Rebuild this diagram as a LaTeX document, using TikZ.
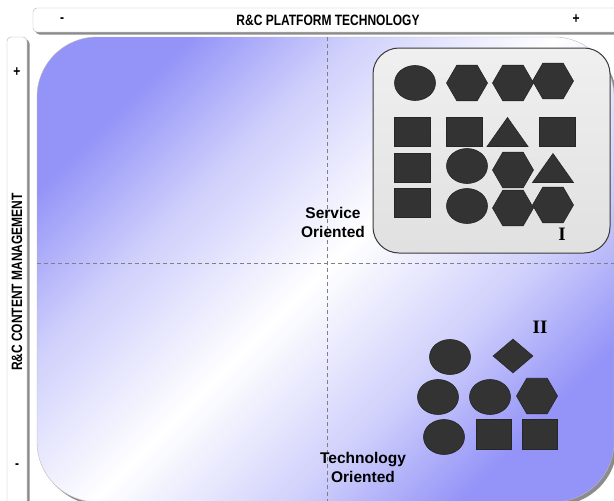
\documentclass[tikz,border=0pt]{standalone}
\usepackage{fontspec}
\setmainfont{Liberation Sans}
\newfontfamily\narrowfont[FakeStretch=0.8]{Liberation Sans}
\newfontfamily\romanfont{Liberation Serif}
\usetikzlibrary{shapes.geometric,shadows}
\definecolor{quadBlue}{HTML}{9494F8}
\definecolor{shapeGray}{HTML}{333333}
\definecolor{boxEdge}{HTML}{3A3A3A}
\definecolor{barShadow}{HTML}{8C8C8C}
\pgfdeclareverticalshading{quadshade}{100bp}{color(0bp)=(quadBlue); color(25bp)=(quadBlue);
  color(36bp)=(quadBlue!45!white); color(50bp)=(white); color(64bp)=(quadBlue!45!white);
  color(75bp)=(quadBlue); color(100bp)=(quadBlue)}

\tikzset{
  shp/.style={fill=shapeGray,draw=black!85,line width=0.6pt,inner sep=0pt},
  blob/.style={shp,ellipse,minimum width=41pt,minimum height=35pt},
  hexa/.style={shp,regular polygon,regular polygon sides=6,minimum size=41pt},
  sqbox/.style={shp,rectangle,minimum width=36pt,minimum height=29pt},
  dia/.style={shp,diamond,minimum width=40pt,minimum height=34pt},
  tri/.pic={\path[shp] (-20.5,14.5) -- (20.5,14.5) -- (0,-14.5) -- cycle;},
  axisbar/.style={draw=gray!60,fill=white,rounded corners=4pt,
    drop shadow={shadow xshift=2.5pt,shadow yshift=-2.5pt,fill=barShadow,opacity=1}},
  axislabel/.style={font=\narrowfont\bfseries\fontsize{15}{18}\selectfont},
  quadlabel/.style={font=\bfseries\fontsize{15.5}{19}\selectfont,align=center},
  romanlabel/.style={font=\romanfont\bfseries\fontsize{19}{22}\selectfont}
}

\begin{document}
\begin{tikzpicture}[x=1pt,y=-1pt]
  \useasboundingbox (0,0) rectangle (614,501);
  \clip (0,0) rectangle (614,501);

  % axis bars
  \draw[axisbar] (33,8) rectangle (624,32);
  \draw[axisbar] (7,37) rectangle (27,512);
  \node[axislabel] (xtitle) at (328,20) {R\&C PLATFORM TECHNOLOGY};
  \node[axislabel] (xminus) at (62,20) {-};
  \node[axislabel] (xplus) at (576,19) {+};
  \node[axislabel, rotate=90] (ytitle) at (17,282) {R\&C CONTENT MANAGEMENT};
  \node[axislabel] (yplus) at (17,72) {+};
  \node[axislabel] (yminus) at (17,466) {-};

  % quadrant area
  \path[draw=gray!55, rounded corners=60pt,
        drop shadow={shadow xshift=3pt,shadow yshift=-3pt,fill=barShadow,opacity=1},
        shading=quadshade, shading angle=45] (37,37) rectangle (614,502);
  \draw[gray, dash pattern=on 4pt off 3pt] (327,37) -- (327,501);
  \draw[gray, dash pattern=on 4pt off 3pt] (37,263) -- (614,263);

  % quadrant I
  \node[draw=boxEdge, line width=1pt, rounded corners=26pt,
        top color=gray!12, bottom color=gray!24,
        minimum width=237pt, minimum height=205pt] (boxI) at (491.5,150.5) {};
  \node[blob] (a1) at (415,83) {};
  \node[hexa] (a2) at (467,83) {};
  \node[hexa] (a3) at (513,83) {};
  \node[hexa] (a4) at (553,81) {};
  \node[sqbox] (b1) at (412,132) {};
  \node[sqbox] (b2) at (464.5,132) {};
  \pic at (507.5,132) {tri};
  \node[sqbox] (b4) at (557.5,132) {};
  \node[sqbox] (c1) at (412,167.5) {};
  \node[blob] (c2) at (467,166) {};
  \node[hexa] (c3) at (513,170) {};
  \pic at (553,168) {tri};
  \node[sqbox] (d1) at (412,202.5) {};
  \node[blob] (d2) at (467,206) {};
  \node[hexa] (d3) at (513,208) {};
  \node[hexa] (d4) at (553,205) {};
  \node[romanlabel] (numI) at (562,234) {I};
  \node[quadlabel] (service) at (333,222) {Service\\Oriented};

  % quadrant II
  \node[romanlabel] (numII) at (540,327) {II};
  \node[blob] (e1) at (450,357) {};
  \node[dia] (e2) at (513,356) {};
  \node[blob] (f1) at (438,397) {};
  \node[blob] (f2) at (490,397) {};
  \node[hexa] (f3) at (537,396) {};
  \node[blob] (g1) at (444,437) {};
  \node[sqbox, minimum width=35pt, minimum height=30pt] (g2) at (493.5,434) {};
  \node[sqbox, minimum width=35pt, minimum height=30pt] (g3) at (539.5,434) {};
  \node[quadlabel] (techno) at (363,467) {Technology\\Oriented};
\end{tikzpicture}
\end{document}
